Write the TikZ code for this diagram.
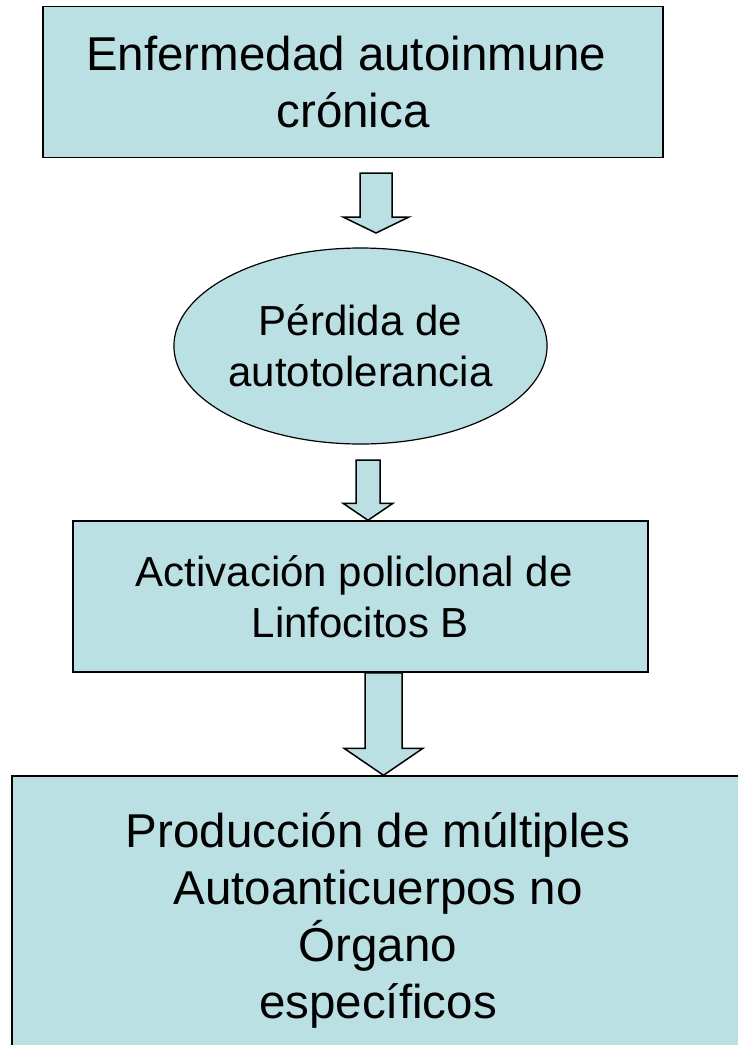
\documentclass[tikz,border=0pt]{standalone}
\usepackage{fontspec}
\setmainfont{Liberation Sans}
\usetikzlibrary{calc,shapes.geometric}
\definecolor{celeste}{HTML}{BBE0E3}
\tikzset{
	caja/.style={draw=black, line width=1.5pt, fill=celeste, inner sep=0pt, align=center},
	ovalo/.style={ellipse, draw=black, line width=1.2pt, fill=celeste, inner sep=0pt, align=center},
	textogrande/.style={font=\fontsize{47.5}{57}\selectfont},
	textomedio/.style={font=\fontsize{42}{51}\selectfont}
}
\def\flecha(#1)(#2)(#3:#4:#5){\draw[line width=1.5pt, fill=celeste, line join=miter] ($(#1)+(-#3,0)$) -- ($(#2)+(-#3,-#5)$) -- ($(#2)+(-#4,-#5)$) -- (#2) -- ($(#2)+(#4,-#5)$) -- ($(#2)+(#3,-#5)$) -- ($(#1)+(#3,0)$) -- cycle;}

\begin{document}
\begin{tikzpicture}[x=1pt, y=-1pt]
			%%%%% START %%%%%
			
			\clip (0, 0) rectangle (738, 1045);
			
			\node[caja, textogrande, minimum width=620pt, minimum height=151pt] (enfermedad) at (353, 82) {Enfermedad autoinmune\hspace*{0.28em}\\crónica};
			
			\node[ovalo, textomedio, minimum width=365pt, minimum height=196pt] (perdida) at (360.5, 346) {Pérdida de\\autotolerancia};
			
			\node[caja, textomedio, minimum width=575pt, minimum height=151pt] (activacion) at (360.5, 596.5) {Activación policlonal de\hspace*{0.3em}\\Linfocitos B};
			
			\node[caja, textogrande, minimum width=732pt, minimum height=288pt] (produccion) at (378, 920) {Producción de múltiples\\Autoanticuerpos no\\Órgano\\específicos};
			
			\coordinate (ini1) at (376, 173);
			\coordinate (fin1) at (376, 233);
			\coordinate (ini2) at (368, 460);
			\coordinate (fin2) at (368, 0 |- activacion.north);
			\coordinate (ini3) at (383.5, 0 |- activacion.south);
			\coordinate (fin3) at (383.5, 0 |- produccion.north);
			
			\flecha(ini1)(fin1)(16:33:16);
			\flecha(ini2)(fin2)(12:25:17);
			\flecha(ini3)(fin3)(18.5:39.5:27);
			
			%%%%% END %%%%%
\end{tikzpicture}
\end{document}
